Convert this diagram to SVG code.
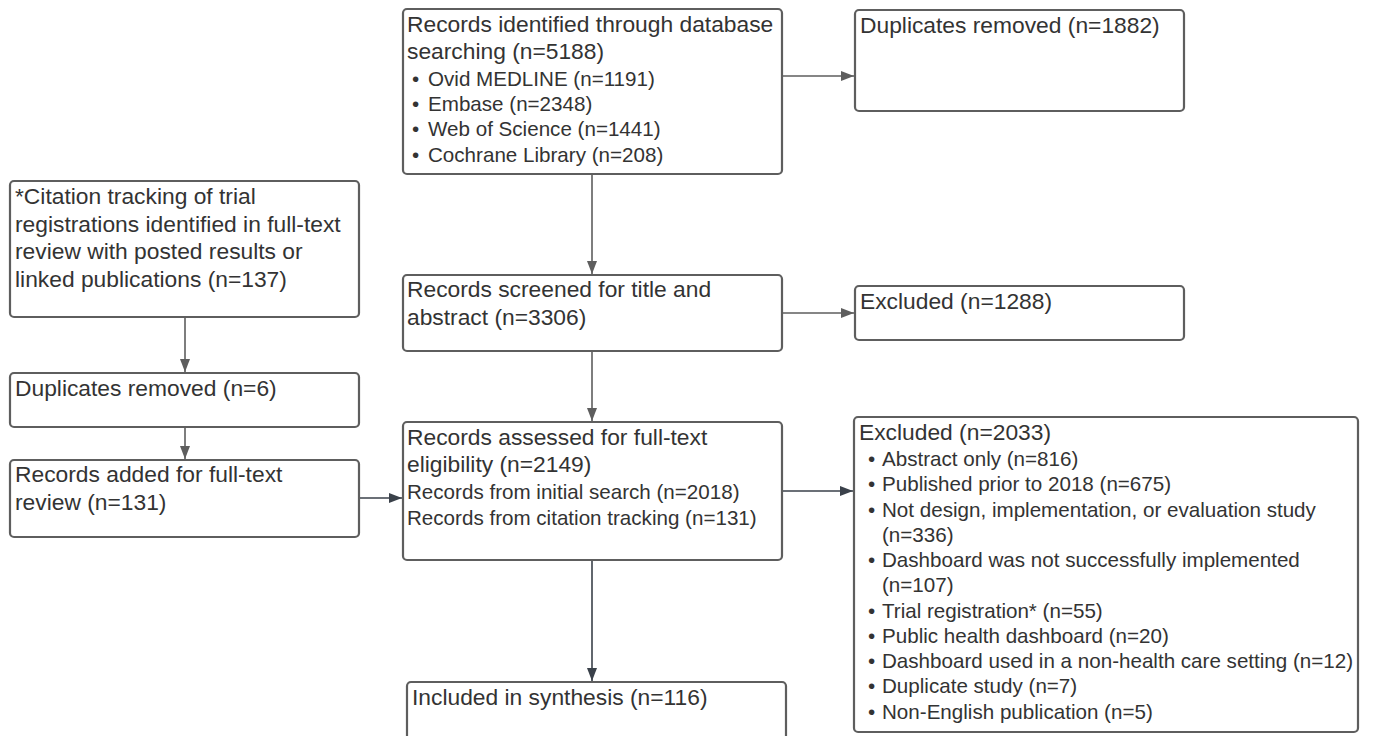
<svg xmlns="http://www.w3.org/2000/svg" width="1378" height="736" viewBox="0 0 1378 736">
<style>
.box{fill:#fff;stroke:#5e5e5e;stroke-width:2.2}
.t{font-family:"Liberation Sans",Arial,sans-serif;font-size:22.8px;fill:#333}
.s{font-family:"Liberation Sans",Arial,sans-serif;font-size:20.6px;fill:#333}
.c{fill:none;stroke-width:1.6}
.g{stroke:#5e5e5e}
.d{stroke:#3a414a}
</style>
<defs>
<marker id="ag" markerUnits="userSpaceOnUse" markerWidth="14" markerHeight="12" viewBox="0 0 14 12" refX="13" refY="6" orient="auto"><path d="M0,1 L13,6 L0,11 Z" fill="#5e5e5e"/></marker>
<marker id="ad" markerUnits="userSpaceOnUse" markerWidth="14" markerHeight="12" viewBox="0 0 14 12" refX="13" refY="6" orient="auto"><path d="M0,1 L13,6 L0,11 Z" fill="#3a414a"/></marker>
</defs>
<rect width="1378" height="736" fill="#fff"/>
<g id="connectors">
<line class="c g" x1="782" y1="76" x2="854" y2="76" marker-end="url(#ag)"/>
<line class="c g" x1="592" y1="175" x2="592" y2="274" marker-end="url(#ag)"/>
<line class="c g" x1="782" y1="313" x2="854" y2="313" marker-end="url(#ag)"/>
<line class="c g" x1="592" y1="352" x2="592" y2="421" marker-end="url(#ag)"/>
<line class="c g" x1="185" y1="318" x2="185" y2="372" marker-end="url(#ag)"/>
<line class="c g" x1="185" y1="428" x2="185" y2="459" marker-end="url(#ag)"/>
<line class="c d" x1="360" y1="498" x2="402" y2="498" marker-end="url(#ad)"/>
<line class="c d" x1="782" y1="491" x2="853" y2="491" marker-end="url(#ad)"/>
<line class="c d" x1="592" y1="561" x2="592" y2="681" marker-end="url(#ad)"/>
</g>
<g id="n-identified">
<rect class="box" x="403" y="9" width="379" height="165" rx="4"/>
<text class="t" x="407" y="32">Records identified through database</text>
<text class="t" x="407" y="59">searching (n=5188)</text>
<text class="s" x="412" y="86">•</text><text class="s" x="428" y="86">Ovid MEDLINE (n=1191)</text>
<text class="s" x="412" y="111">•</text><text class="s" x="428" y="111">Embase (n=2348)</text>
<text class="s" x="412" y="136">•</text><text class="s" x="428" y="136">Web of Science (n=1441)</text>
<text class="s" x="412" y="162">•</text><text class="s" x="428" y="162">Cochrane Library (n=208)</text>
</g>
<g id="n-dup1">
<rect class="box" x="855" y="10" width="329" height="101" rx="4"/>
<text class="t" x="860" y="33">Duplicates removed (n=1882)</text>
</g>
<g id="n-citation">
<rect class="box" x="10" y="181" width="349" height="136" rx="4"/>
<text class="t" x="15" y="204">*Citation tracking of trial</text>
<text class="t" x="15" y="232">registrations identified in full-text</text>
<text class="t" x="15" y="259">review with posted results or</text>
<text class="t" x="15" y="287">linked publications (n=137)</text>
</g>
<g id="n-dup2">
<rect class="box" x="10" y="373" width="349" height="54" rx="4"/>
<text class="t" x="15" y="396">Duplicates removed (n=6)</text>
</g>
<g id="n-added">
<rect class="box" x="10" y="460" width="349" height="77" rx="4"/>
<text class="t" x="15" y="482">Records added for full-text</text>
<text class="t" x="15" y="510">review (n=131)</text>
</g>
<g id="n-screened">
<rect class="box" x="403" y="275" width="379" height="76" rx="4"/>
<text class="t" x="407" y="297">Records screened for title and</text>
<text class="t" x="407" y="325">abstract (n=3306)</text>
</g>
<g id="n-excl1">
<rect class="box" x="855" y="286" width="329" height="54" rx="4"/>
<text class="t" x="860" y="309">Excluded (n=1288)</text>
</g>
<g id="n-assessed">
<rect class="box" x="403" y="422" width="379" height="138" rx="4"/>
<text class="t" x="407" y="445">Records assessed for full-text</text>
<text class="t" x="407" y="472">eligibility (n=2149)</text>
<text class="s" x="407" y="499">Records from initial search (n=2018)</text>
<text class="s" x="407" y="525">Records from citation tracking (n=131)</text>
</g>
<g id="n-excl2">
<rect class="box" x="854" y="417" width="504" height="315" rx="4"/>
<text class="t" x="859" y="440">Excluded (n=2033)</text>
<text class="s" x="868" y="466">•</text><text class="s" x="882" y="466">Abstract only (n=816)</text>
<text class="s" x="868" y="491">•</text><text class="s" x="882" y="491">Published prior to 2018 (n=675)</text>
<text class="s" x="868" y="517">•</text><text class="s" x="882" y="517">Not design, implementation, or evaluation study</text>
<text class="s" x="882" y="542">(n=336)</text>
<text class="s" x="868" y="567">•</text><text class="s" x="882" y="567">Dashboard was not successfully implemented</text>
<text class="s" x="882" y="592">(n=107)</text>
<text class="s" x="868" y="618">•</text><text class="s" x="882" y="618">Trial registration* (n=55)</text>
<text class="s" x="868" y="643">•</text><text class="s" x="882" y="643">Public health dashboard (n=20)</text>
<text class="s" x="868" y="668">•</text><text class="s" x="882" y="668">Dashboard used in a non-health care setting (n=12)</text>
<text class="s" x="868" y="693">•</text><text class="s" x="882" y="693">Duplicate study (n=7)</text>
<text class="s" x="868" y="719">•</text><text class="s" x="882" y="719">Non-English publication (n=5)</text>
</g>
<g id="n-included">
<rect class="box" x="407" y="682" width="379" height="70" rx="4"/>
<text class="t" x="412" y="705">Included in synthesis (n=116)</text>
</g>
</svg>
